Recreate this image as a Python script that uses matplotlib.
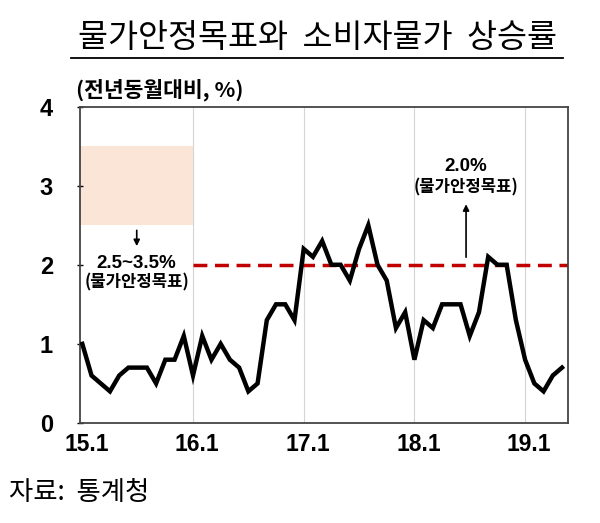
import matplotlib
matplotlib.use("Agg")
import matplotlib.pyplot as plt
import matplotlib.transforms as mtransforms
from matplotlib.lines import Line2D
import numpy as np

plt.rcParams['font.family'] = ['Noto Sans CJK KR', 'DejaVu Sans']

# Data: monthly CPI inflation (YoY, %) from 2015.1 to 2019.5
cpi = [1.0, 0.6, 0.5, 0.4, 0.6, 0.7, 0.7, 0.7, 0.5, 0.8, 0.8, 1.1,
       0.6, 1.1, 0.8, 1.0, 0.8, 0.7, 0.4, 0.5, 1.3, 1.5, 1.5, 1.3,
       2.2, 2.1, 2.3, 2.0, 2.0, 1.8, 2.2, 2.5, 2.0, 1.8, 1.2, 1.4,
       0.8, 1.3, 1.2, 1.5, 1.5, 1.5, 1.1, 1.4, 2.1, 2.0, 2.0, 1.3,
       0.8, 0.5, 0.4, 0.6, 0.7]
xtick_labels = ['15.1', '16.1', '17.1', '18.1', '19.1']
xtick_pos = [0, 12, 24, 36, 48]
target_band = (2.5, 3.5)   # 2015 target range
target_point = 2.0          # 2016~ target

fig = plt.figure(figsize=(6.0, 5.23), dpi=100)
ax = fig.add_axes([80/600, 1-423/523, (568-80)/600, (423-106.5)/523])

x = np.arange(len(cpi))
ax.set_xlim(-0.25, 52.65)
ax.set_ylim(0, 4)

# vertical grid
for p in xtick_pos[1:]:
    ax.axvline(p, color='#d4d4d4', lw=0.8, zorder=0)

# target band
ax.fill_between([-0.25, 12], target_band[0], target_band[1], color='#FBE5D6', lw=0, zorder=1)
# target line
ax.plot([12, 52.65], [target_point, target_point], color='#C00000', lw=2.5,
        dashes=(4, 2.2), zorder=2)
# cpi line
ax.plot(x, cpi, color='black', lw=3.2, zorder=3, solid_joinstyle='miter')

# annotations
ax.annotate('', xy=(5.9, 2.2), xytext=(5.9, 2.47),
            arrowprops=dict(arrowstyle='-|>', color='black', lw=1.2, mutation_scale=9))
ax.text(5.9, 2.02, '2.5~3.5%', ha='center', va='center', fontsize=13.5,
        fontweight='bold', family=['Liberation Sans', 'Noto Sans CJK KR'])
ax.text(5.9, 1.78, '(물가안정목표)', ha='center', va='center', fontsize=12,
        fontweight='bold')

ax.annotate('', xy=(41.6, 2.8), xytext=(41.6, 2.06),
            arrowprops=dict(arrowstyle='-|>', color='black', lw=1.2, mutation_scale=9))
ax.text(41.6, 3.24, '2.0%', ha='center', va='center', fontsize=13.5,
        fontweight='bold', family=['Liberation Sans', 'Noto Sans CJK KR'])
ax.text(41.6, 2.98, '(물가안정목표)', ha='center', va='center', fontsize=12,
        fontweight='bold')

ax.set_xticks(xtick_pos)
ax.set_xticklabels(xtick_labels, fontsize=16.5, fontweight='bold',
                   family=['Liberation Sans'])
ax.set_yticks([0, 1, 2, 3, 4])
ax.set_yticklabels(['0', '1', '2', '3', '4'], fontsize=17, fontweight='bold',
                   family=['Liberation Sans'])
ax.tick_params(axis='x', length=0, pad=7)
ax.tick_params(axis='y', direction='inout', length=5, width=1, pad=17)
shift = mtransforms.ScaledTranslation(4/100, 0, fig.dpi_scale_trans)
for lbl in ax.get_xticklabels():
    lbl.set_transform(lbl.get_transform() + shift)
for s in ax.spines.values():
    s.set_color('#444444')
    s.set_linewidth(1.3)

# title
fig.text(317/600, 1-38/523, '물가안정목표와  소비자물가  상승률', ha='center', va='center',
         fontsize=23.5)
fig.add_artist(Line2D([71/600, 563/600], [1-58/523, 1-58/523], color='black', lw=1.3))

# unit label
fig.text(76/600, 1-90/523, '(전년동월대비, %)', ha='left', va='center',
         fontsize=15.5, fontweight='bold')

# source
fig.text(9/600, 1-492/523, '자료:  통계청', ha='left', va='center', fontsize=19)

fig.savefig('out.png', dpi=100)
